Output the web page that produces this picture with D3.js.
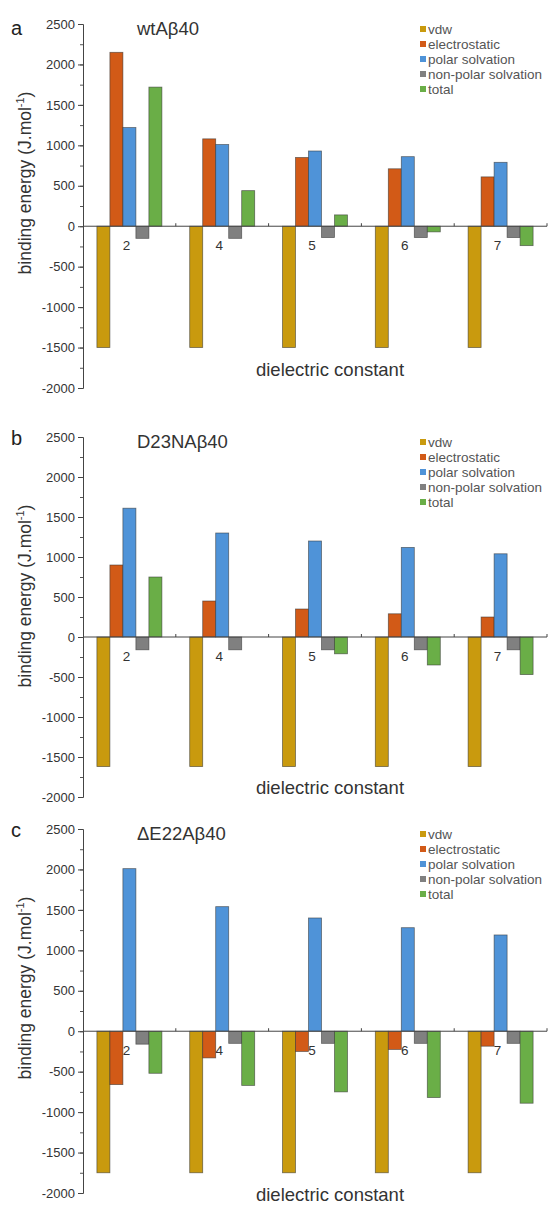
<!DOCTYPE html>
<html>
<head>
<meta charset="utf-8">
<script src="https://cdn.jsdelivr.net/npm/d3@7"></script>
<style>
  body { margin: 0; background: #fff; }
  svg text { font-family: "Liberation Sans", Arial, sans-serif; }
</style>
</head>
<body>
<svg id="chart" width="554" height="1206"></svg>
<script>
// dielectric constants on the x axis
var categories = ["2", "4", "5", "6", "7"];
var seriesNames = ["vdw", "electrostatic", "polar solvation", "non-polar solvation", "total"];
var seriesColors = ["#C99A0E", "#D25A17", "#4F93D8", "#808080", "#6AAE47"];
var yTicks = [-2000, -1500, -1000, -500, 0, 500, 1000, 1500, 2000, 2500];
var yMinorTicks = d3.range(-2000, 2501, 250);

// panel a, wtAβ40
var wtVdw = [-1500, -1500, -1500, -1500, -1500];
var wtElec = [2150, 1080, 850, 710, 610];
var wtPolar = [1220, 1010, 930, 860, 790];
var wtNonPolar = [-150, -150, -140, -140, -140];
var wtTotal = [1720, 440, 140, -70, -240];

// panel b, D23NAβ40
var d23nVdw = [-1620, -1620, -1620, -1620, -1620];
var d23nElec = [900, 450, 350, 290, 250];
var d23nPolar = [1610, 1300, 1200, 1120, 1040];
var d23nNonPolar = [-160, -160, -160, -160, -160];
var d23nTotal = [750, 0, -210, -350, -470];

// panel c, ΔE22Aβ40
var e22Vdw = [-1750, -1750, -1750, -1750, -1750];
var e22Elec = [-660, -330, -250, -225, -185];
var e22Polar = [2010, 1540, 1400, 1280, 1190];
var e22NonPolar = [-160, -150, -150, -150, -150];
var e22Total = [-520, -670, -750, -820, -890];

var panels = [
    {letter: "a", title: "wtAβ40", top: 24, bottom: 388, xTitleY: 376, letterY: 35,
        values: [wtVdw, wtElec, wtPolar, wtNonPolar, wtTotal]},
    {letter: "b", title: "D23NAβ40", top: 437, bottom: 797, xTitleY: 794, letterY: 445,
        values: [d23nVdw, d23nElec, d23nPolar, d23nNonPolar, d23nTotal]},
    {letter: "c", title: "ΔE22Aβ40", top: 829, bottom: 1193, xTitleY: 1201, letterY: 837,
        values: [e22Vdw, e22Elec, e22Polar, e22NonPolar, e22Total]}
];

var svg = d3.select("#chart");
var axisLeft = 83, axisRight = 547;

var x = d3.scaleBand().domain(categories).range([axisLeft, axisRight]);
var xInner = d3.scaleBand().domain(seriesNames).range([0, x.bandwidth()]).paddingOuter(1.07);

function drawPanel(p) {
    var g = svg.append("g").attr("class", "panel-" + p.letter);
    var y = d3.scaleLinear().domain([-2000, 2500]).range([p.bottom, p.top]);
    var y0 = y(0);

    // bars
    seriesNames.forEach(function (name, s) {
        g.append("g").selectAll("rect")
            .data(p.values[s])
            .enter().append("rect")
            .attr("x", function (d, i) { return x(categories[i]) + xInner(name); })
            .attr("y", function (d) { return Math.min(y(d), y0); })
            .attr("width", xInner.bandwidth())
            .attr("height", function (d) { return Math.abs(y(d) - y0); })
            .attr("fill", seriesColors[s])
            .attr("stroke", "rgba(50,50,50,0.65)")
            .attr("stroke-width", 0.8);
    });

    // y axis, minor ticks first then labelled ones
    g.append("g")
        .attr("transform", "translate(" + axisLeft + ",0)")
        .call(d3.axisLeft(y).tickValues(yMinorTicks).tickSize(3).tickFormat(""))
        .call(function (a) { a.select(".domain").remove(); })
        .selectAll("line").attr("stroke", "#555");
    var yAxis = g.append("g")
        .attr("transform", "translate(" + axisLeft + ",0)")
        .call(d3.axisLeft(y).tickValues(yTicks).tickSizeOuter(0).tickSize(5).tickPadding(3)
            .tickFormat(function (d) { return String(d); }));
    yAxis.select(".domain").attr("stroke", "#444");
    yAxis.selectAll("line").attr("stroke", "#444");
    yAxis.selectAll("text").attr("font-size", 13).attr("fill", "#333");

    // zero line with category labels under it
    var xAxis = g.append("g")
        .attr("transform", "translate(0," + y0 + ")")
        .call(d3.axisBottom(x).tickSize(0).tickPadding(14));
    xAxis.select(".domain").remove();
    xAxis.selectAll("text").attr("font-size", 13.5).attr("fill", "#333")
        .attr("dx", -3);
    g.append("line")
        .attr("x1", axisLeft).attr("x2", axisRight)
        .attr("y1", y0).attr("y2", y0)
        .attr("stroke", "#444").attr("stroke-width", 1);
    g.append("g").selectAll("line")
        .data(categories)
        .enter().append("line")
        .attr("x1", function (d) { return x(d) + x.bandwidth(); })
        .attr("x2", function (d) { return x(d) + x.bandwidth(); })
        .attr("y1", y0).attr("y2", y0 - 3)
        .attr("stroke", "#444");

    // titles
    g.append("text")
        .attr("x", 11).attr("y", p.letterY)
        .attr("font-size", 20).attr("fill", "#222")
        .text(p.letter);
    g.append("text")
        .attr("x", 137).attr("y", p.top + 11)
        .attr("font-size", 18.5).attr("fill", "#333")
        .text(p.title);
    g.append("text")
        .attr("transform", "translate(31," + (p.top + 159) + ") rotate(-90)")
        .attr("text-anchor", "middle")
        .attr("font-size", 17.5).attr("fill", "#333")
        .text("binding energy (J.mol")
        .append("tspan").attr("dy", -7).attr("font-size", 11).text("-1")
        .select(function () { return this.parentNode; })
        .append("tspan").attr("dy", 7).text(")");
    g.append("text")
        .attr("x", 330).attr("y", p.xTitleY)
        .attr("text-anchor", "middle")
        .attr("font-size", 18.5).attr("fill", "#333")
        .text("dielectric constant");

    // legend
    var legend = g.append("g").attr("transform", "translate(420," + (p.top + 5) + ")");
    seriesNames.forEach(function (name, s) {
        legend.append("rect")
            .attr("x", 0).attr("y", s * 15 - 3)
            .attr("width", 6).attr("height", 6)
            .attr("fill", seriesColors[s]);
        legend.append("text")
            .attr("x", 8).attr("y", s * 15)
            .attr("dy", "0.35em")
            .attr("font-size", 13.5).attr("fill", "#555")
            .text(name);
    });
}

panels.forEach(drawPanel);
</script>
</body>
</html>
